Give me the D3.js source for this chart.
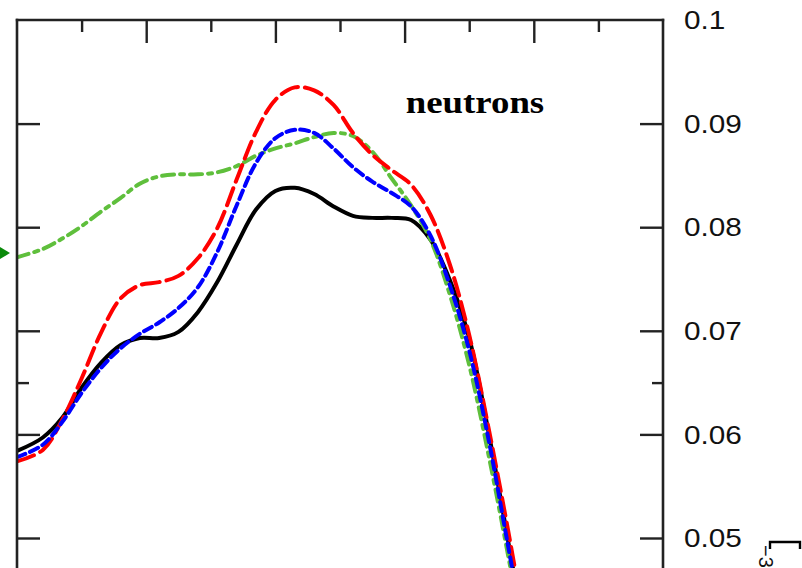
<!DOCTYPE html>
<html><head><meta charset="utf-8">
<script src="https://cdn.jsdelivr.net/npm/d3@7"></script>
<style>html,body{margin:0;padding:0;background:#fff;}svg{display:block;}</style>
</head><body>
<svg id="c" width="802" height="568"></svg>
<script>
const xGrid = [0,4,7,10,13,16,19,22,25,28,31,34,37,40,43,46,49,52,55,58,61,64,67,70,73,76,79];
const blackVals = [0.0584,0.0597,0.0616,0.0645,0.0669,0.0686,0.0693,0.0693,0.0699,0.0718,0.0747,0.0783,0.0817,0.0835,0.0838,0.0832,0.0820,0.0811,0.0809,0.0809,0.0807,0.0788,0.0749,0.0693,0.0602,0.0498,0.0392];
const redVals = [0.0574,0.0585,0.0614,0.0654,0.0698,0.0731,0.0744,0.0747,0.0753,0.0770,0.0799,0.0846,0.0892,0.0923,0.0935,0.0932,0.0918,0.0891,0.0870,0.0855,0.0841,0.0812,0.0764,0.0696,0.0606,0.0508,0.0402];
const blueVals = [0.0578,0.0590,0.0612,0.0640,0.0664,0.0683,0.0697,0.0708,0.0722,0.0742,0.0776,0.0821,0.0862,0.0886,0.0894,0.0891,0.0876,0.0858,0.0844,0.0833,0.0820,0.0792,0.0744,0.0681,0.0595,0.0493,0.0392];
const greenVals = [0.0771,0.0779,0.0789,0.0801,0.0815,0.0828,0.0842,0.0849,0.0851,0.0851,0.0853,0.0859,0.0869,0.0876,0.0881,0.0887,0.0891,0.0888,0.0873,0.0847,0.0821,0.0788,0.0735,0.0667,0.0580,0.0484,0.0382];
const yMajorTicks = [0.05,0.06,0.07,0.08,0.09,0.1];
const yMinorTicks = [0.065];
const xMajorTicks = [20,40,60,80];
const xMinorTicks = [10,30,50,70,90];
const arrowValue = 0.0775;
const panelLabel = "neutrons";

(function(){
const svg = d3.select("#c");
const W = 802, H = 568;
const pLeft = 17, pRight = 663, pTop = 20;
const x = d3.scaleLinear().domain([0,100]).range([pLeft,pRight]);
const y = d3.scaleLinear().domain([0.05,0.1]).range([538,pTop]);

svg.append("defs").append("clipPath").attr("id","clip")
  .append("rect").attr("x",pLeft).attr("y",pTop).attr("width",pRight-pLeft).attr("height",H-pTop);

const series = [
  {vals: blackVals, color:"#000", dash:null},
  {vals: greenVals, color:"#5fbf3c", dash:"12,6,4,6"},
  {vals: redVals, color:"#ff0000", dash:"18,7"},
  {vals: blueVals, color:"#0000ff", dash:"9,5"}
];
const line = d3.line().x((d,i)=>x(xGrid[i])).y(d=>y(d)).curve(d3.curveCatmullRom.alpha(0.5));
const g = svg.append("g").attr("clip-path","url(#clip)");
series.forEach(s=>{
  g.append("path").attr("d", line(s.vals)).attr("fill","none")
   .attr("stroke", s.color).attr("stroke-width",4)
   .attr("stroke-dasharray", s.dash).attr("stroke-linecap", s.dash ? "round":"butt");
});

const axisColor = "#222";
svg.append("line").attr("x1",pLeft).attr("x2",pLeft).attr("y1",pTop-1.2).attr("y2",H).attr("stroke",axisColor).attr("stroke-width",2.6);
svg.append("line").attr("x1",pRight).attr("x2",pRight).attr("y1",pTop-1.2).attr("y2",H).attr("stroke",axisColor).attr("stroke-width",2.6);
svg.append("line").attr("x1",pLeft-1.2).attr("x2",pRight+1.2).attr("y1",pTop).attr("y2",pTop).attr("stroke",axisColor).attr("stroke-width",2.6);

function styleAxis(sel){
  sel.select(".domain").remove();
  sel.selectAll(".tick line").attr("stroke",axisColor).attr("stroke-width",2.4);
}
const topMaj = svg.append("g").attr("transform",`translate(0,${pTop})`)
  .call(d3.axisTop(x).tickValues(xMajorTicks).tickSize(-23).tickFormat(""));
styleAxis(topMaj);
const topMin = svg.append("g").attr("transform",`translate(0,${pTop})`)
  .call(d3.axisTop(x).tickValues(xMinorTicks).tickSize(-12).tickFormat(""));
styleAxis(topMin);
const leftMaj = svg.append("g").attr("transform",`translate(${pLeft},0)`)
  .call(d3.axisLeft(y).tickValues(yMajorTicks.filter(v=>v<0.1)).tickSize(-23).tickFormat(""));
styleAxis(leftMaj);
const leftMin = svg.append("g").attr("transform",`translate(${pLeft},0)`)
  .call(d3.axisLeft(y).tickValues(yMinorTicks).tickSize(-12).tickFormat(""));
styleAxis(leftMin);
const rightMaj = svg.append("g").attr("transform",`translate(${pRight},0)`)
  .call(d3.axisRight(y).tickValues(yMajorTicks).tickSize(-23).tickPadding(21).tickFormat(d3.format("")));
styleAxis(rightMaj);
rightMaj.selectAll(".tick line").filter(d=>d===0.1).remove();
rightMaj.selectAll(".tick text")
  .attr("font-family","'Liberation Sans', Arial, sans-serif").attr("font-size",25).attr("fill","#111")
  .attr("transform", function(){ const xx=+d3.select(this).attr("x"); return `translate(${xx},0) scale(1.19,1)`; })
  .attr("x",0).attr("dy","0.35em");
const rightMin = svg.append("g").attr("transform",`translate(${pRight},0)`)
  .call(d3.axisRight(y).tickValues(yMinorTicks).tickSize(-11).tickFormat(""));
styleAxis(rightMin);

svg.append("text").attr("transform","translate(475,113) scale(1.15,1)")
  .attr("text-anchor","middle").attr("font-family","'Liberation Serif','Times New Roman',serif")
  .attr("font-weight","bold").attr("font-size",32).attr("fill","#000").text(panelLabel);

const ay = y(arrowValue);
svg.append("path").attr("d",`M0,${ay-6}L10,${ay}L0,${ay+6}Z`).attr("fill","#0a8a0a");

svg.append("path").attr("d","M770,549V542H800V549").attr("fill","none").attr("stroke","#000").attr("stroke-width",2.4);
svg.append("text").attr("transform","translate(759,545) rotate(90)")
  .attr("font-family","'Liberation Sans', Arial, sans-serif").attr("font-size",20).attr("fill","#111").text("−3");
})();
</script>
</body></html>
